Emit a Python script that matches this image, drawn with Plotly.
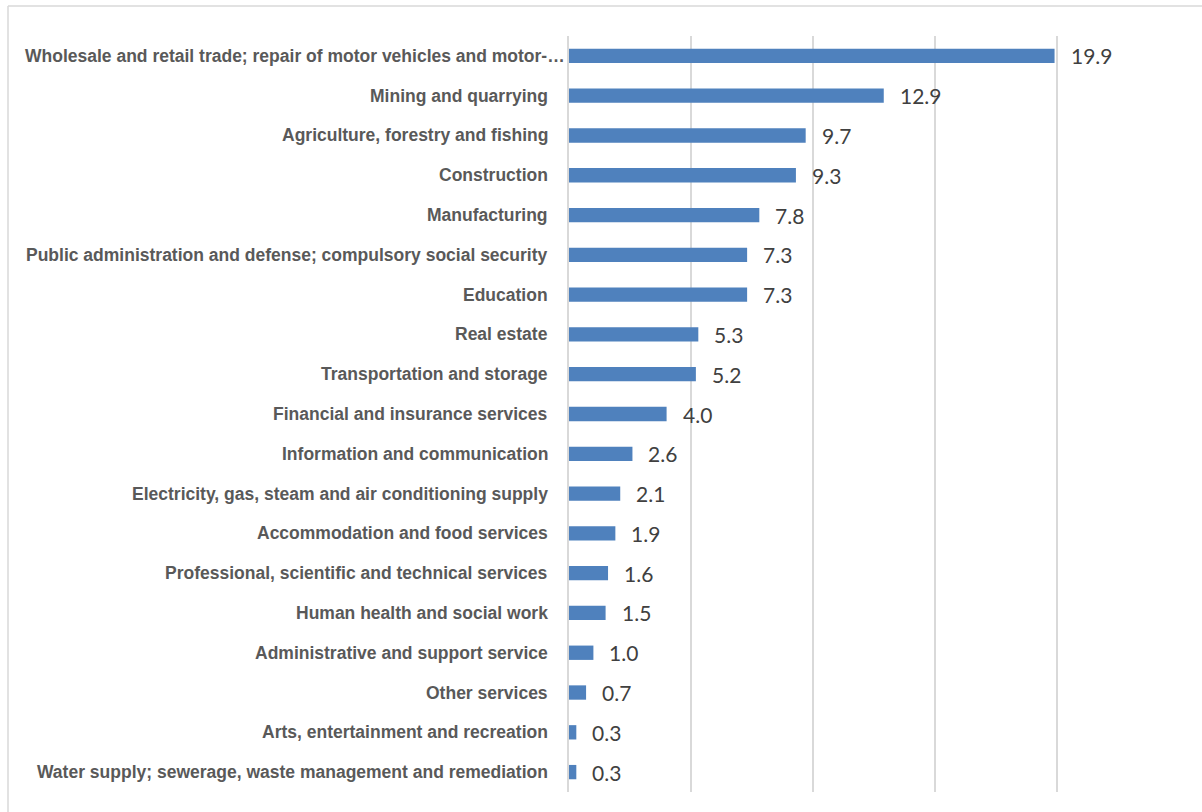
import plotly.graph_objects as go

categories = [
    "Wholesale and retail trade; repair of motor vehicles and motor-…",
    "Mining and quarrying",
    "Agriculture, forestry and fishing",
    "Construction",
    "Manufacturing",
    "Public administration and defense; compulsory social security",
    "Education",
    "Real estate",
    "Transportation and storage",
    "Financial and insurance services",
    "Information and communication",
    "Electricity, gas, steam and air conditioning supply",
    "Accommodation and food services",
    "Professional, scientific and technical services",
    "Human health and social work",
    "Administrative and support service",
    "Other services",
    "Arts, entertainment and recreation",
    "Water supply; sewerage, waste management and remediation",
]
values = [19.9, 12.9, 9.7, 9.3, 7.8, 7.3, 7.3, 5.3, 5.2, 4.0, 2.6, 2.1, 1.9, 1.6, 1.5, 1.0, 0.7, 0.3, 0.3]
value_labels = [f"{v:.1f}" for v in values]

W, H = 1202, 812
L, R, T, B = 569, 23, 36, 20

fig = go.Figure()
fig.add_trace(go.Bar(
    x=values, y=categories, orientation="h",
    marker=dict(color="#4F81BD", line=dict(width=0)),
    width=0.36, hoverinfo="x+y",
))

cat_font = dict(family="Liberation Sans Narrow, Arial Narrow, sans-serif",
                size=17.5, color="#595959", weight="bold")
for i, c in enumerate(categories):
    # the truncated first label sits closer to the axis, as in the original
    shift = -2 if c.endswith("…") else -19
    fig.add_annotation(x=0, xref="paper", y=c, yref="y", text=c, showarrow=False,
                       xanchor="right", yanchor="middle", xshift=shift,
                       font=cat_font)

for c, v, t in zip(categories, values, value_labels):
    fig.add_annotation(x=v, y=c, text=t, showarrow=False, xanchor="left",
                       yanchor="middle", xshift=14, yshift=0,
                       font=dict(family="Lato, Open Sans, sans-serif", size=21, color="#404040"))

pw = W - L - R
ph = H - T - B
bx = (8 - L) / pw
by = (H - 6 - B) / ph
# chart border: top and left edges (right/bottom lie outside the picture)
fig.add_shape(type="line", xref="paper", yref="paper",
              x0=bx, x1=(W + 5 - L) / pw, y0=by, y1=by,
              line=dict(color="#D9D9D9", width=1.5))
fig.add_shape(type="line", xref="paper", yref="paper",
              x0=bx, x1=bx, y0=by, y1=(-B - 5) / ph,
              line=dict(color="#D9D9D9", width=1.5))

fig.update_layout(
    width=W, height=H,
    margin=dict(l=L, r=R, t=T, b=B, pad=0, autoexpand=False),
    paper_bgcolor="white", plot_bgcolor="white",
    showlegend=False,
    xaxis=dict(range=[0, 25], dtick=5, showticklabels=False, showgrid=True,
               gridcolor="#D9D9D9", gridwidth=1.5, zeroline=False, showline=False,
               ticks="", fixedrange=True, automargin=False),
    yaxis=dict(autorange="reversed", showgrid=False, showline=True,
               linecolor="#D9D9D9", linewidth=1.5, ticks="", showticklabels=False,
               automargin=False, fixedrange=True),
)

fig.write_html("out.html", config={"displayModeBar": False},
               post_script="document.body.style.margin='0';document.body.style.overflow='hidden';")
